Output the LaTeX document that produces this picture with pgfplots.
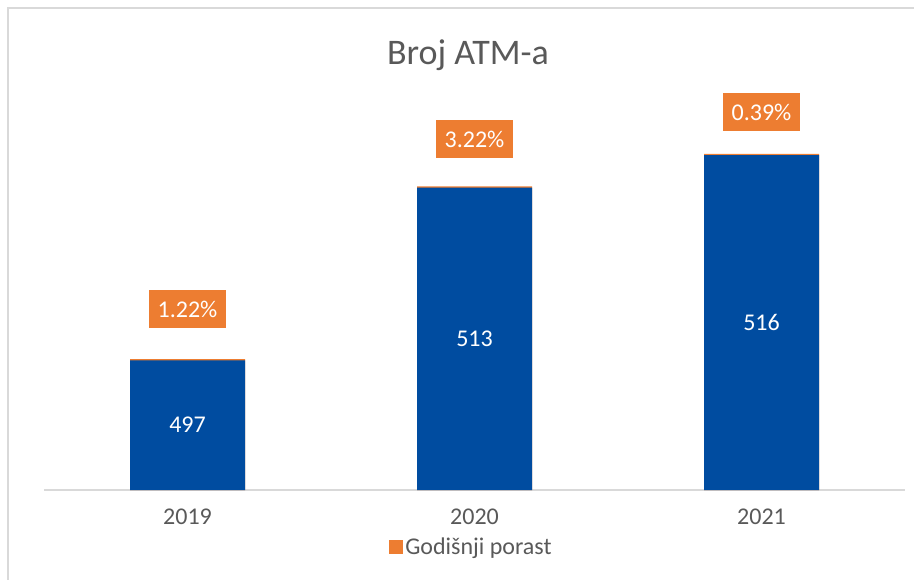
\documentclass[border=0pt]{standalone}
\usepackage{fontspec}
\setmainfont{Carlito}
\usepackage{pgfplots}
\pgfplotsset{compat=1.18}
\definecolor{barblue}{RGB}{0,76,160}
\definecolor{barorange}{RGB}{237,125,49}
\definecolor{txtgray}{RGB}{89,89,89}
\definecolor{linegray}{RGB}{217,217,217}
\begin{document}
\begin{tikzpicture}
\draw[linegray, line width=1.5pt] (6.2pt,-2pt) -- (6.2pt,428.2pt) -- (690pt,428.2pt);
\node[text=txtgray, font=\fontsize{27}{32}\selectfont] at (351pt,393pt) {Broj ATM-a};
\begin{axis}[
 at={(33pt,66.75pt)}, anchor=south west,
 scale only axis, width=645.75pt, height=315.9pt,
 xmin=-0.5, xmax=2.5, ymin=485, ymax=524,
 axis x line*=bottom, axis y line=none,
 x axis line style={linegray, line width=1.5pt},
 xtick={0,1,2}, xticklabels={2019,2020,2021},
 xtick style={draw=none},
 ytick=\empty,
 xticklabel style={text=txtgray, font=\fontsize{18}{22}\selectfont, yshift=-11pt},
 legend style={at={(0.4965,-0.136)}, anchor=center, draw=none, fill=none, font=\fontsize{18}{22}\selectfont, text=txtgray, legend cell align=left},
 legend image code/.code={\fill[barorange] (-2.5pt,-5.25pt) rectangle (8pt,5.25pt);},
]
\addplot[ybar, bar width=86.25pt, bar shift=0pt, fill=barorange, draw=none] coordinates {(0,497.12) (1,513.12) (2,516.12)};
\addlegendentry{Godišnji porast}
\addplot[ybar, bar width=86.25pt, bar shift=0pt, fill=barblue, draw=none, forget plot] coordinates {(0,497) (1,513) (2,516)};
% value labels inside bars (at bar middle)
\addplot[draw=none, mark=none, forget plot, nodes near coords, point meta=explicit symbolic,
  nodes near coords align={center},
  every node near coord/.append style={anchor=center, text=white, font=\fontsize{18}{22}\selectfont}]
  table[meta=lab] {
x y lab
0 491 497
1 499 513
2 500.5 516
};
% growth labels
\addplot[draw=none, mark=none, forget plot, nodes near coords, point meta=explicit symbolic,
  nodes near coords align={center},
  every node near coord/.append style={anchor=center, fill=barorange, text=white, inner xsep=6.4pt, minimum height=28.5pt, font=\fontsize{18}{22}\selectfont}]
  table[meta=lab] {
x y lab
0 501.76 1.22\%
1 517.5 3.22\%
2 520.0 0.39\%
};
\end{axis}
\pgfresetboundingbox
\useasboundingbox (0,0) rectangle (685.5pt,434.25pt);
\end{tikzpicture}
\end{document}
